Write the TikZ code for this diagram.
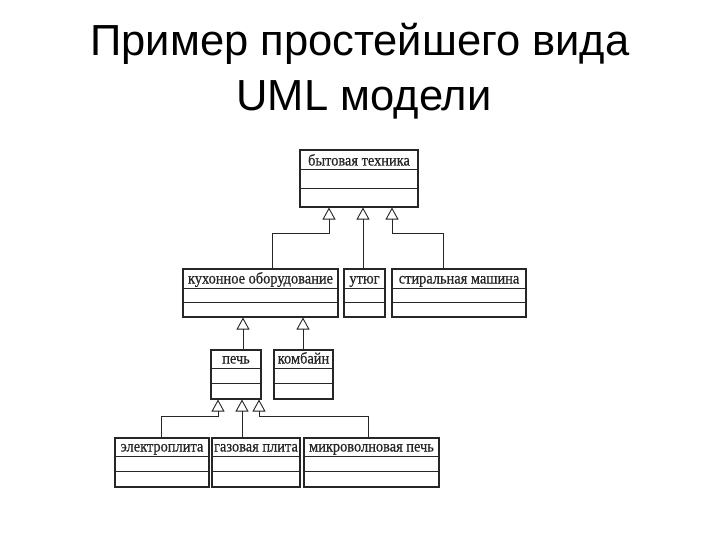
\documentclass[tikz,border=0pt]{standalone}
\usepackage{fontspec}
\setmainfont{Liberation Serif}
\newfontfamily\umlfont[FakeStretch=0.9,FakeBold=0.6]{Liberation Serif}
\newfontfamily\titlefont{Liberation Sans}
\usetikzlibrary{arrows.meta}
\definecolor{ink}{HTML}{262626}
\tikzset{
  box/.style={draw=ink, line width=1.1pt, inner sep=0pt, rectangle},
  lbl/.style={font=\umlfont\fontsize{16}{18}\selectfont, inner sep=0pt, anchor=base, text=ink},
  sep/.style={draw=ink, line width=1pt},
  gen/.style={draw=ink, line width=1pt, -{Triangle[open, length=12pt, width=13pt, line width=0.9pt]}},
  ttl/.style={font=\titlefont\fontsize{43.5}{50}\selectfont, anchor=base, inner sep=0pt}
}
% \umlcls{name}{x1}{y1}{x2}{y2}{d1}{d2}{text}
\newcommand{\umlcls}[8]{%
  \pgfmathsetmacro{\cw}{#4-#2}\pgfmathsetmacro{\ch}{#5-#3}%
  \pgfmathsetmacro{\cx}{(#2+#4)/2}\pgfmathsetmacro{\cy}{(#3+#5)/2}%
  \pgfmathsetmacro{\ty}{#6-4.5}%
  \node[box, minimum width=\cw pt, minimum height=\ch pt] (#1) at (\cx,\cy) {};
  \node[lbl] (#1-name) at (\cx,\ty) {#8};
  \draw[sep] (#2,#6) -- (#4,#6);
  \draw[sep] (#2,#7) -- (#4,#7);
}
\begin{document}
\begin{tikzpicture}[x=1pt, y=-1pt]
\useasboundingbox (0,0) rectangle (720,540);
\fill[white] (0,0) rectangle (720,540);

\node[ttl] (title1) at (360,56) {Пример простейшего вида};
\node[ttl] (title2) at (364,111) {UML модели};

\umlcls{bt}{300}{150}{418}{207}{170}{189}{бытовая техника}
\umlcls{kux}{183}{269}{338}{317}{288}{302}{кухонное оборудование}
\umlcls{utug}{344}{269}{385}{317}{288}{302}{утюг}
\umlcls{stir}{392}{269}{526}{317}{288}{302}{стиральная машина}
\umlcls{pech}{211}{350}{261}{399}{368}{383}{печь}
\umlcls{komb}{274}{350}{333}{399}{368}{383}{комбайн}
\umlcls{elek}{115}{438}{209}{487}{456}{471}{электроплита}
\umlcls{gaz}{212}{438}{300}{487}{456}{471}{газовая плита}
\umlcls{mikro}{304}{438}{439}{487}{456}{471}{микроволновая печь}

% generalisations to "бытовая техника"
\draw[gen] ([xshift=11.5pt]kux.north) -- ++(0,-35) -| ([xshift=-30pt]bt.south);
\draw[gen] ([xshift=-1.5pt]utug.north) -- ([xshift=4pt]bt.south);
\draw[gen] ([xshift=-16pt]stir.north) -- ++(0,-35) -| ([xshift=33pt]bt.south);

% generalisations to "кухонное оборудование"
\draw[gen] ([xshift=7pt]pech.north) -- ([xshift=-17.5pt]kux.south);
\draw[gen] ([xshift=-0.5pt]komb.north) -- ([xshift=42.5pt]kux.south);

% generalisations to "печь"
\draw[gen] ([xshift=-1pt]elek.north) -- ++(0,-21) -| ([xshift=-18pt]pech.south);
\draw[gen] ([xshift=-14pt]gaz.north) -- ([xshift=6pt]pech.south);
\draw[gen] ([xshift=-3.5pt]mikro.north) -- ++(0,-21) -| ([xshift=23pt]pech.south);
\end{tikzpicture}
\end{document}
